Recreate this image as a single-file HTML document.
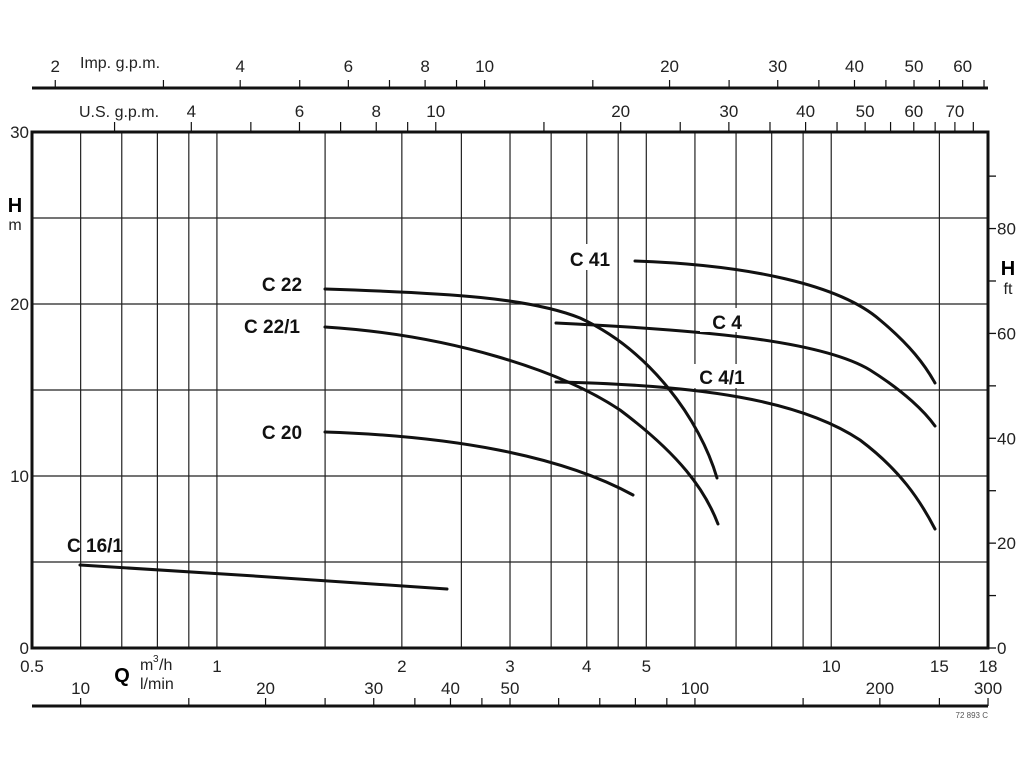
<!DOCTYPE html>
<html><head><meta charset="utf-8"><style>
html,body{margin:0;padding:0;background:#fff;width:1024px;height:768px;overflow:hidden}
svg{display:block;font-family:"Liberation Sans",Arial,sans-serif}
</style></head><body>
<svg id="s" width="1024" height="768" viewBox="0 0 1024 768" xmlns="http://www.w3.org/2000/svg">
<g id="grid" stroke="#222" stroke-width="1.2"></g>
<g id="ax"></g>
<g fill="none" stroke="#111" stroke-width="3" stroke-linecap="round">
<path d="M80,565 C200,572 330,581 447,589"/>
<path d="M325,289 C450,293 530,298 580,318 C650,350 700,420 717,478"/>
<path d="M325,327 C450,335 560,370 620,410 C680,455 705,490 718,524"/>
<path d="M325,432 C450,436 560,455 633,495"/>
<path d="M635,261 C750,265 840,285 880,320 C910,345 925,365 935,383"/>
<path d="M556,323 C700,330 820,340 870,370 C905,392 925,412 935,426"/>
<path d="M556,382 C700,385 800,400 860,440 C900,470 920,500 935,529"/>
</g>
<g font-weight="bold" font-size="19" fill="#111" text-anchor="middle">
<rect x="564" y="244" width="52" height="26" fill="#fff"/>
<rect x="700" y="308" width="50" height="24" fill="#fff"/>
<rect x="690" y="364" width="62" height="24" fill="#fff"/>
<text x="282" y="291">C 22</text>
<text x="272" y="333">C 22/1</text>
<text x="282" y="439">C 20</text>
<text x="95" y="552">C 16/1</text>
<text x="590" y="266">C 41</text>
<text x="727" y="329">C 4</text>
<text x="722" y="384">C 4/1</text>
</g>
</svg>
<script>
const NS="http://www.w3.org/2000/svg";
const X=v=>32+614.3*Math.log10(v/0.5);
const Y=h=>648-h*17.2;
const ax=document.getElementById('ax'),grid=document.getElementById('grid');
function el(p,t,a,txt){const e=document.createElementNS(NS,t);for(const k in a)e.setAttribute(k,a[k]);if(txt!==undefined)e.textContent=txt;p.appendChild(e);return e;}
[0.6,0.7,0.8,0.9,1,1.5,2,2.5,3,3.5,4,4.5,5,6,7,8,9,10,15].forEach(v=>el(grid,'line',{x1:X(v),x2:X(v),y1:132,y2:648}));
[5,10,15,20,25].forEach(h=>el(grid,'line',{x1:32,x2:988,y1:Y(h),y2:Y(h)}));
el(ax,'rect',{x:32,y:132,width:956,height:516,fill:'none',stroke:'#111','stroke-width':3});
[[0,'0'],[10,'10'],[20,'20'],[30,'30']].forEach(([h,t])=>el(ax,'text',{x:29,y:Y(h)+6,'font-size':17,'text-anchor':'end',fill:'#222'},t));
el(ax,'text',{x:15,y:212,'font-size':20,'font-weight':'bold','text-anchor':'middle'},'H');
el(ax,'text',{x:15,y:230,'font-size':16,'text-anchor':'middle',fill:'#222'},'m');
for(let f=0;f<=90;f+=10){const y=648-f*5.243;el(ax,'line',{x1:988,x2:996,y1:y,y2:y,stroke:'#111','stroke-width':1.3});
 if(f%20==0)el(ax,'text',{x:997,y:y+6,'font-size':17,fill:'#222'},String(f));}
el(ax,'text',{x:1008,y:275,'font-size':20,'font-weight':'bold','text-anchor':'middle'},'H');
el(ax,'text',{x:1008,y:294,'font-size':16,'text-anchor':'middle',fill:'#222'},'ft');
[[0.5,'0.5'],[1,'1'],[2,'2'],[3,'3'],[4,'4'],[5,'5'],[10,'10'],[15,'15'],[18,'18']].forEach(([v,t])=>el(ax,'text',{x:X(v),y:672,'font-size':17,'text-anchor':'middle',fill:'#222'},t));
el(ax,'text',{x:122,y:682,'font-size':20,'font-weight':'bold','text-anchor':'middle'},'Q');
el(ax,'text',{x:140,y:670,'font-size':16,fill:'#222'},'m');
el(ax,'text',{x:153,y:662,'font-size':10,fill:'#222'},'3');
el(ax,'text',{x:159,y:670,'font-size':16,fill:'#222'},'/h');
el(ax,'text',{x:140,y:689,'font-size':16,fill:'#222'},'l/min');
el(ax,'line',{x1:32,x2:988,y1:706,y2:706,stroke:'#111','stroke-width':3});
const L=v=>X(v/16.667);
[10,15,20,25,30,35,40,45,50,60,70,80,90,100,150,200,250,300].forEach(v=>el(ax,'line',{x1:L(v),x2:L(v),y1:698,y2:706,stroke:'#111','stroke-width':1.2}));
[10,20,30,40,50,100,200,300].forEach(v=>el(ax,'text',{x:L(v),y:694,'font-size':17,'text-anchor':'middle',fill:'#222'},String(v)));
el(ax,'text',{x:988,y:718,'font-size':8,'text-anchor':'end',fill:'#555'},'72 893 C');
const U=v=>X(v/4.403);
[3,4,5,6,7,8,9,10,15,20,25,30,35,40,45,50,55,60,65,70,75].forEach(v=>{if(U(v)>32&&U(v)<988)el(ax,'line',{x1:U(v),x2:U(v),y1:122,y2:132,stroke:'#111','stroke-width':1.2})});
[4,6,8,10,20,30,40,50,60,70].forEach(v=>el(ax,'text',{x:U(v),y:117,'font-size':17,'text-anchor':'middle',fill:'#222'},String(v)));
el(ax,'text',{x:79,y:117,'font-size':16,fill:'#222'},'U.S. g.p.m.');
el(ax,'line',{x1:32,x2:988,y1:88,y2:88,stroke:'#111','stroke-width':3});
const I=v=>X(v/3.666);
[2,3,4,5,6,7,8,9,10,15,20,25,30,35,40,45,50,55,60,65].forEach(v=>{if(I(v)>32&&I(v)<=988)el(ax,'line',{x1:I(v),x2:I(v),y1:80,y2:88,stroke:'#111','stroke-width':1.2})});
[2,4,6,8,10,20,30,40,50,60].forEach(v=>el(ax,'text',{x:I(v),y:72,'font-size':17,'text-anchor':'middle',fill:'#222'},String(v)));
el(ax,'text',{x:80,y:68,'font-size':16,fill:'#222'},'Imp. g.p.m.');
</script>
</body></html>
